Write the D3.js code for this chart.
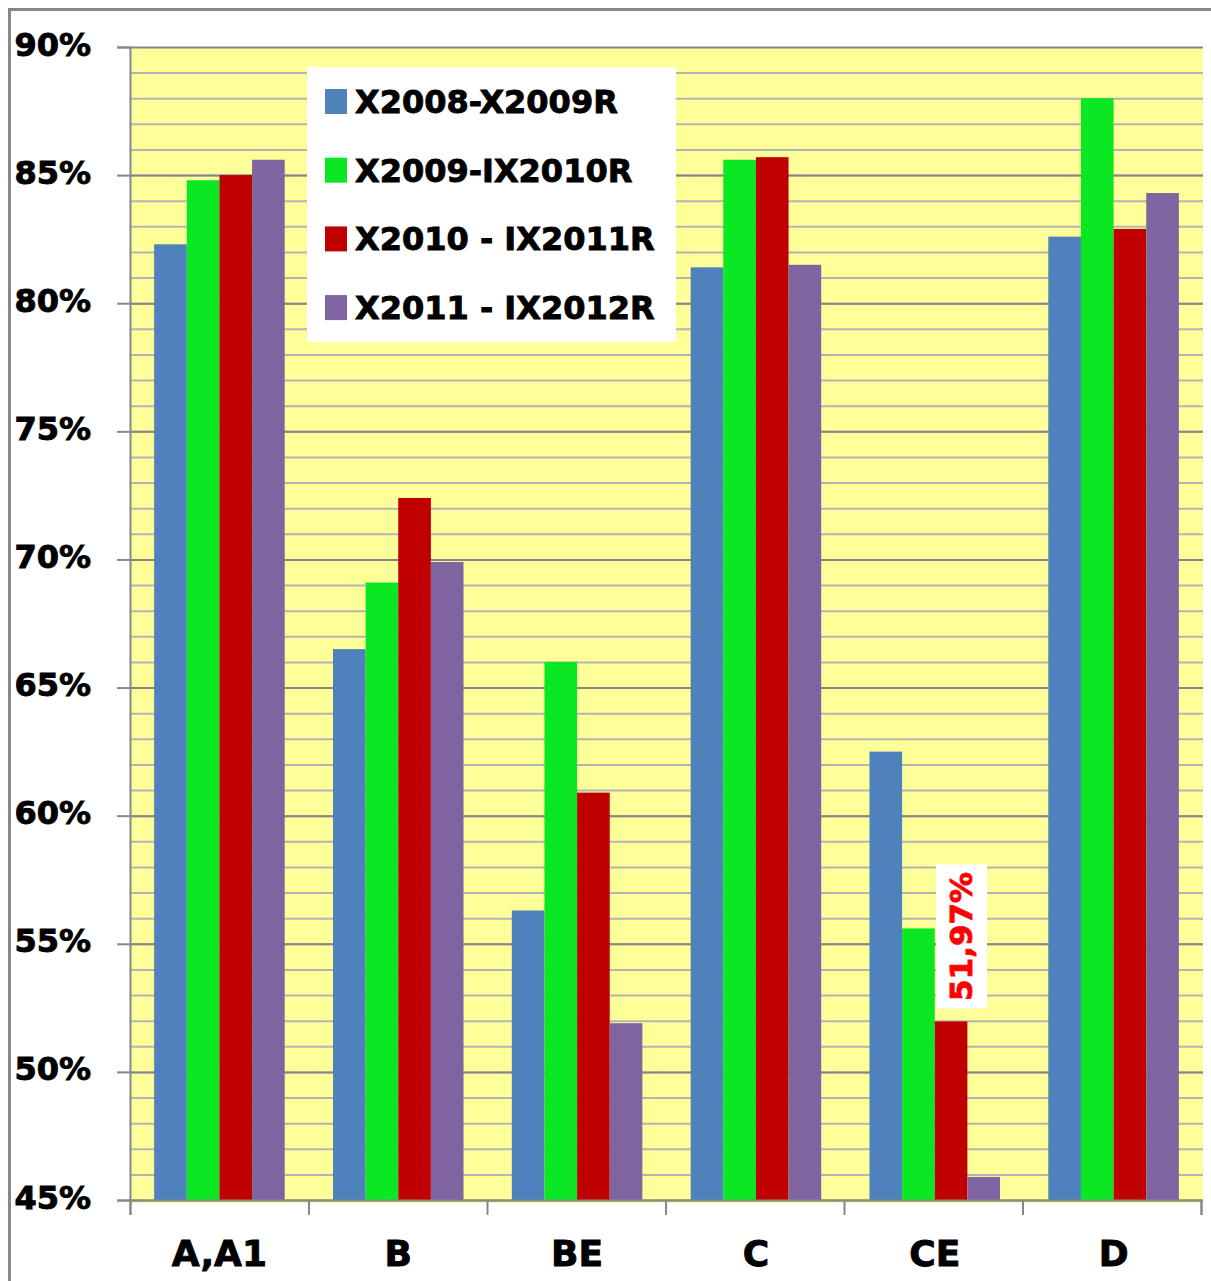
<!DOCTYPE html>
<html>
<head>
<meta charset="utf-8">
<script src="https://cdn.jsdelivr.net/npm/d3@7"></script>
<style>
  body { margin: 0; background: #fff; }
  text { font-family: "DejaVu Sans", sans-serif; font-weight: bold; stroke-width: 0.9px; }
</style>
</head>
<body>
<div id="myBar" style="width:1211px;height:1281px;"></div>
<script>
/* categories and series */
var categories = ["A,A1", "B", "BE", "C", "CE", "D"];
var seriesNames = ["X2008-X2009R", "X2009-IX2010R", "X2010 - IX2011R", "X2011 - IX2012R"];
var s2008 = [82.3, 66.5, 56.3, 81.4, 62.5, 82.6];
var s2009 = [84.8, 69.1, 66.0, 85.6, 55.6, 88.0];
var s2010 = [85.0, 72.4, 60.9, 85.7, 51.97, 82.9];
var s2011 = [85.6, 69.9, 51.9, 81.5, 45.9, 84.3];
var yTicks = [45, 50, 55, 60, 65, 70, 75, 80, 85, 90];
/* the one value that has a label */
var labelCat = "CE", labelSeries = "X2010 - IX2011R";

var colors = ["#4f81bd", "#0ae823", "#c00000", "#8064a2"];
var seriesVals = [s2008, s2009, s2010, s2011];

var svgWidth = 1211, svgHeight = 1281;
/* plot box (window.top is reserved, so p-prefixed names) */
var pLeft = 130, pRight = 1203, pTop = 47, pBottom = 1200;

var svg = d3.select("#myBar").append("svg")
    .attr("width", svgWidth)
    .attr("height", svgHeight);

/* outer frame */
svg.append("rect")
    .attr("x", 9.5).attr("y", 9.5)
    .attr("width", 1250).attr("height", 1300)
    .attr("fill", "#fff")
    .attr("stroke", "#888").attr("stroke-width", 3);

/* plot area */
svg.append("rect")
    .attr("x", pLeft).attr("y", pTop)
    .attr("width", pRight - pLeft).attr("height", pBottom - pTop + 3)
    .attr("fill", "#ffff99");

var y = d3.scaleLinear().domain([45, 90]).range([pBottom, pTop]);
var x0 = d3.scaleBand().domain(categories).range([pLeft, pRight]);
var gap = x0.bandwidth() * 0.135;
var x1 = d3.scaleBand().domain(seriesNames).range([gap, x0.bandwidth() - gap]);

/* minor gridlines every 1% */
svg.append("g")
    .attr("transform", "translate(" + pLeft + ",0)")
    .call(d3.axisLeft(y).tickValues(d3.range(46, 90)).tickSize(-(pRight - pLeft)).tickFormat(""))
    .call(function (g) {
        g.select(".domain").remove();
        g.selectAll("line").attr("stroke", "#b4b4b4").attr("stroke-width", 2);
    });

/* major gridlines */
svg.append("g")
    .attr("transform", "translate(" + pLeft + ",0)")
    .call(d3.axisLeft(y).tickValues(yTicks).tickSize(-(pRight - pLeft)).tickFormat(""))
    .call(function (g) {
        g.select(".domain").remove();
        g.selectAll("line").attr("stroke", "#868686").attr("stroke-width", 2);
    });

var yAxis = svg.append("g")
    .attr("transform", "translate(" + pLeft + ",0)")
    .call(d3.axisLeft(y).tickValues(yTicks).tickSize(13).tickPadding(26)
        .tickFormat(function (d) { return d + "%"; }));
yAxis.select(".domain").attr("stroke", "#888").attr("stroke-width", 2);
yAxis.selectAll("line").attr("stroke", "#888").attr("stroke-width", 2);
yAxis.selectAll("text")
    .attr("fill", "#000")
    .attr("stroke", "#000")
    .style("font-size", "32px")
    .attr("dy", "0.25em");

/* bars */
var groups = svg.append("g").selectAll("g")
    .data(categories)
    .join("g")
    .attr("transform", function (d) { return "translate(" + x0(d) + ",0)"; });

groups.selectAll("rect")
    .data(function (d, i) {
        return seriesNames.map(function (s, k) {
            return { cat: d, series: s, value: seriesVals[k][i], color: colors[k] };
        });
    })
    .join("rect")
    .attr("x", function (d) { return x1(d.series); })
    .attr("y", function (d) { return y(d.value); })
    .attr("width", x1.bandwidth())
    .attr("height", function (d) { return y(45) - y(d.value); })
    .attr("fill", function (d) { return d.color; });

/* x axis: ticks on category borders */
var xIdx = d3.scaleLinear().domain([0, categories.length]).range([pLeft, pRight - 2]);
var xAxis = svg.append("g")
    .attr("transform", "translate(0," + pBottom + ")")
    .call(d3.axisBottom(xIdx).ticks(categories.length).tickSize(15).tickFormat(""));
xAxis.select(".domain").attr("stroke", "#888").attr("stroke-width", 2);
xAxis.selectAll("line").attr("stroke", "#888").attr("stroke-width", 2);

var xLab = svg.append("g")
    .attr("transform", "translate(0," + pBottom + ")")
    .call(d3.axisBottom(x0).tickSize(0).tickPadding(40));
xLab.select(".domain").remove();
xLab.selectAll("text")
    .attr("fill", "#000")
    .attr("stroke", "#000")
    .style("font-size", "36px");

/* data label for CE */
var ci = categories.indexOf(labelCat), si = seriesNames.indexOf(labelSeries);
var lv = seriesVals[si][ci];
var lx = x0(labelCat) + x1(labelSeries) + x1.bandwidth() / 2 + 10;
var ly = y(lv) - 85;
var lab = svg.append("g").attr("transform", "translate(" + lx + "," + ly + ") rotate(-90)");
lab.append("rect")
    .attr("x", -72).attr("y", -25)
    .attr("width", 144).attr("height", 51)
    .attr("fill", "#fff");
lab.append("text")
    .attr("text-anchor", "middle")
    .attr("dy", "0.36em")
    .attr("fill", "#ff0000")
    .attr("stroke", "#ff0000")
    .style("font-size", "31px")
    .text(lv.toFixed(2).replace(".", ",") + "%");

/* legend */
var legend = svg.append("g");
legend.append("rect")
    .attr("x", 307).attr("y", 67)
    .attr("width", 369).attr("height", 275)
    .attr("fill", "#fff");
var items = legend.selectAll("g.item")
    .data(seriesNames)
    .join("g")
    .attr("class", "item")
    .attr("transform", function (d, i) { return "translate(325," + (89 + i * 68.7) + ")"; });
items.append("rect")
    .attr("width", 22).attr("height", 25)
    .attr("fill", function (d, i) { return colors[i]; });
items.append("text")
    .attr("x", 30).attr("y", 24)
    .attr("fill", "#000")
    .attr("stroke", "#000")
    .style("font-size", "32px")
    .text(function (d) { return d; });
</script>
</body>
</html>
